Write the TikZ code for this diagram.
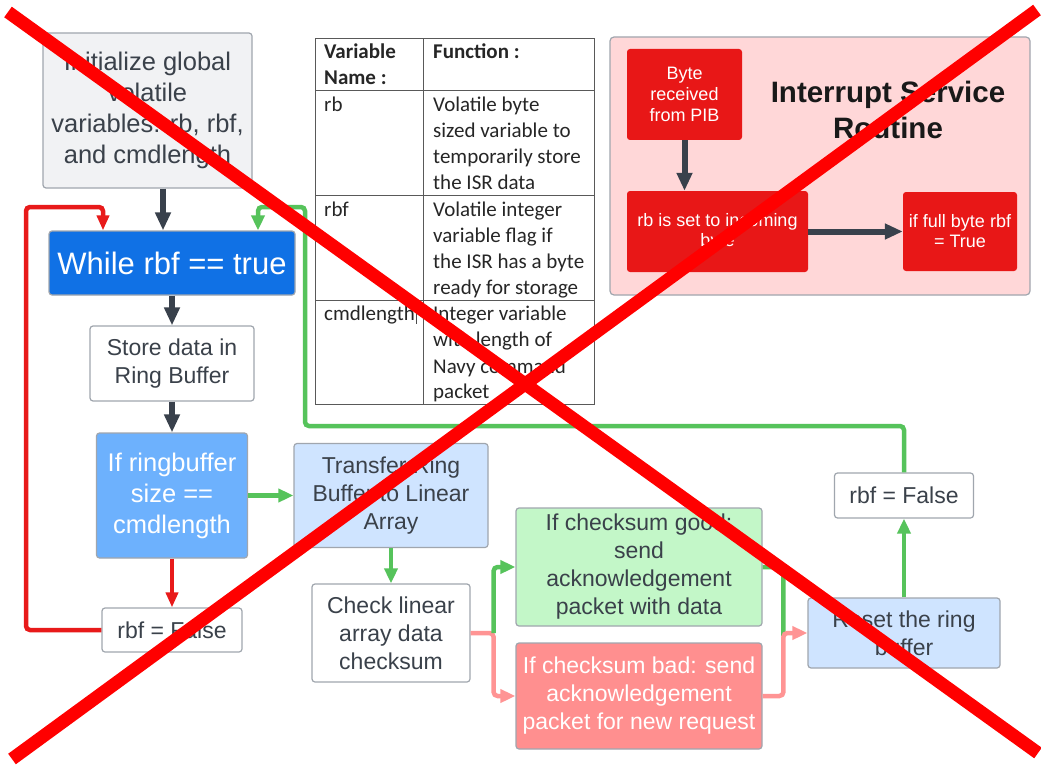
\documentclass[tikz,border=0pt]{standalone}
\usepackage{fontspec}
\setmainfont{Liberation Sans}
\newfontfamily\tabfont{Carlito}
\usetikzlibrary{arrows.meta}
\definecolor{txt}{HTML}{3A414A}
\definecolor{bord}{HTML}{A0A6AE}
\definecolor{darkarr}{HTML}{39414C}
\definecolor{garr}{HTML}{56C35B}
\definecolor{rarr}{HTML}{E81A1A}
\definecolor{parr}{HTML}{FF9494}
\definecolor{whilefill}{HTML}{1071E5}
\definecolor{iffill}{HTML}{6DB1FD}
\definecolor{lblue}{HTML}{CFE4FF}
\definecolor{lgreen}{HTML}{C3F7C8}
\definecolor{lred}{HTML}{FF8F8F}
\definecolor{isrbg}{HTML}{FFD7D8}
\definecolor{isrred}{HTML}{E81717}
\definecolor{initfill}{HTML}{F1F2F4}
\definecolor{xred}{HTML}{FF0000}
\tikzset{
  box/.style={draw=bord, line width=1.2pt, rounded corners=3pt, inner sep=0pt, align=center, text=txt,
    font=\fontsize{23}{28}\selectfont},
  darr/.style={draw=darkarr, line width=6pt, -{Triangle[length=18pt,width=15pt]}},
  garrow/.style={draw=garr, line width=4.5pt, rounded corners=4pt, -{Triangle[length=15pt,width=13pt]}},
  gline/.style={draw=garr, line width=4.5pt, rounded corners=4pt},
  rarrow/.style={draw=rarr, line width=4.5pt, rounded corners=4pt, -{Triangle[length=15pt,width=12pt]}},
  parrow/.style={draw=parr, line width=4.5pt, rounded corners=4pt, -{Triangle[length=15pt,width=13pt]}},
  isrbox/.style={draw=none, fill=isrred, rounded corners=3pt, inner sep=0pt, align=center, text=white,
    font=\fontsize{18}{21}\selectfont},
  tcell/.style={anchor=base west, inner sep=0pt, font=\tabfont\fontsize{21}{25}\selectfont, text=black!85},
  tgrid/.style={draw=black!65, line width=1pt},
  crossline/.style={draw=xred, line width=13pt}
}
\begin{document}
\begin{tikzpicture}[x=1pt,y=-1pt]
\useasboundingbox (0,0) rectangle (1041,765);
\fill[white] (0,0) rectangle (1041,765);

% ---------- left flow ----------
\node[box, fill=initfill, minimum width=209pt, minimum height=155pt, font=\fontsize{25.5}{31}\selectfont]
  (init) at (147.5,110.5) {Initialize global\\volatile\\variables: rb, rbf,\\and cmdlength};
\node[box, fill=whilefill, text=white, minimum width=246pt, minimum height=64pt, font=\fontsize{31}{36}\selectfont]
  (while) at (172,263) {While rbf == true};
\node[box, fill=white, minimum width=164pt, minimum height=75pt] (store) at (172,363.5) {Store data in\\Ring Buffer};
\node[box, fill=iffill, text=white, minimum width=151pt, minimum height=125pt, font=\fontsize{25.5}{31}\selectfont]
  (ifrb) at (172,495.5) {If ringbuffer\\size ==\\cmdlength};
\node[box, fill=white, minimum width=140pt, minimum height=44pt] (rbfL) at (172,630) {rbf = False};

\node[box, fill=lblue, minimum width=194pt, minimum height=104pt] (transfer) at (391,495.5) {Transfer Ring\\Buffer to Linear\\Array};
\node[box, fill=white, minimum width=158pt, minimum height=98pt] (check) at (391,633) {Check linear\\array data\\checksum};
\node[box, fill=lgreen, minimum width=246pt, minimum height=118pt] (good) at (639,567) {If checksum good:\\send\\acknowledgement\\packet with data};
\node[box, fill=lred, text=white, minimum width=246pt, minimum height=106pt] (bad) at (639,696) {If checksum bad: send\\acknowledgement\\packet for new request};
\node[box, fill=lblue, minimum width=192pt, minimum height=70pt] (reset) at (904,633) {Reset the ring\\buffer};
\node[box, fill=white, minimum width=139pt, minimum height=45pt] (rbfR) at (904,495.5) {rbf = False};

% ---------- connectors ----------
\draw[darr] ([xshift=15.5pt]init.south) -- ([xshift=-9pt]while.north);
\draw[darr] (while.south) -- (store.north);
\draw[darr] (store.south) -- (ifrb.north);
\draw[rarrow] (ifrb.south) -- (rbfL.north);
\coordinate (rc) at (26,207);
\draw[rarrow] (rbfL.west) -| (rc) -| ([xshift=-69pt]while.north);
\draw[garrow] (ifrb.east) -- (transfer.west);
\draw[garrow] (transfer.south) -- (check.north);
\draw[parrow] (check.east) -- ++(23,0) |- (bad.west);
\draw[garrow] ([xshift=23pt]check.east) |- (good.west);
\draw[gline] (good.east) -| ([xshift=-24pt,yshift=-3pt]reset.west);
\draw[parrow] (bad.east) -| ([xshift=-24pt]reset.west) -- (reset.west);
\draw[garrow] (reset.north) -- (rbfR.south);
\coordinate (gA) at (305,426);
\coordinate (gB) at (258,207);
\draw[garrow] (rbfR.north) |- (gA) |- (gB) -- ([xshift=86pt]while.north);

% ---------- table ----------
\draw[tgrid] (315,39) rectangle (594,404);
\draw[tgrid] (423,39) -- (423,404);
\draw[tgrid] (315,91) -- (594,91);
\draw[tgrid] (315,195) -- (594,195);
\draw[tgrid] (315,300) -- (594,300);
\draw[draw=black!70, line width=0.8pt] (416,306) -- (416,324);
\node[tcell, font=\tabfont\bfseries\fontsize{21}{25}\selectfont] (h1) at (324,59) {Variable};
\node[tcell, font=\tabfont\bfseries\fontsize{21}{25}\selectfont] (h2) at (324,85) {Name :};
\node[tcell, font=\tabfont\bfseries\fontsize{21}{25}\selectfont] (h3) at (433,59) {Function :};
\node[tcell] (v1) at (324,112) {rb};
\node[tcell] (f11) at (433,112) {Volatile byte};
\node[tcell] (f12) at (433,138) {sized variable to};
\node[tcell] (f13) at (433,164) {temporarily store};
\node[tcell] (f14) at (433,189) {the ISR data};
\node[tcell] (v2) at (324,216) {rbf};
\node[tcell] (f21) at (433,216) {Volatile integer};
\node[tcell] (f22) at (433,242) {variable flag if};
\node[tcell] (f23) at (433,268) {the ISR has a byte};
\node[tcell] (f24) at (433,294) {ready for storage};
\node[tcell] (v3) at (324,320) {cmdlength};
\node[tcell] (f31) at (433,320) {Integer variable};
\node[tcell] (f32) at (433,346) {with length of};
\node[tcell] (f33) at (433,373) {Navy command};
\node[tcell] (f34) at (433,398) {packet};

% ---------- ISR ----------
\node[draw=bord, line width=1.2pt, fill=isrbg, rounded corners=4pt, minimum width=420pt, minimum height=258pt, inner sep=0pt]
  (isr) at (820,166) {};
\node[isrbox, minimum width=115pt, minimum height=91pt] (byte) at (684.5,94.5) {Byte\\received\\from PIB};
\node[isrbox, minimum width=181pt, minimum height=81pt, font=\fontsize{18}{20}\selectfont] (rbset) at (717.5,231.5) {rb is set to incoming\\byte};
\node[isrbox, minimum width=114pt, minimum height=79pt, font=\fontsize{18}{20}\selectfont] (iffull) at (960,231.5) {if full byte rbf\\= True};
\node[inner sep=0pt, align=center, font=\bfseries\fontsize{29.5}{36}\selectfont, text=black!90] (title) at (888,110) {Interrupt Service\\Routine};
\draw[darr] (byte.south) -- (byte.south |- rbset.north);
\draw[darr] (rbset.east) -- (iffull.west);

% ---------- cross ----------
\draw[crossline] (8,12) -- (1038,753);
\draw[crossline] (1037,10) -- (12,759);
\end{tikzpicture}
\end{document}
